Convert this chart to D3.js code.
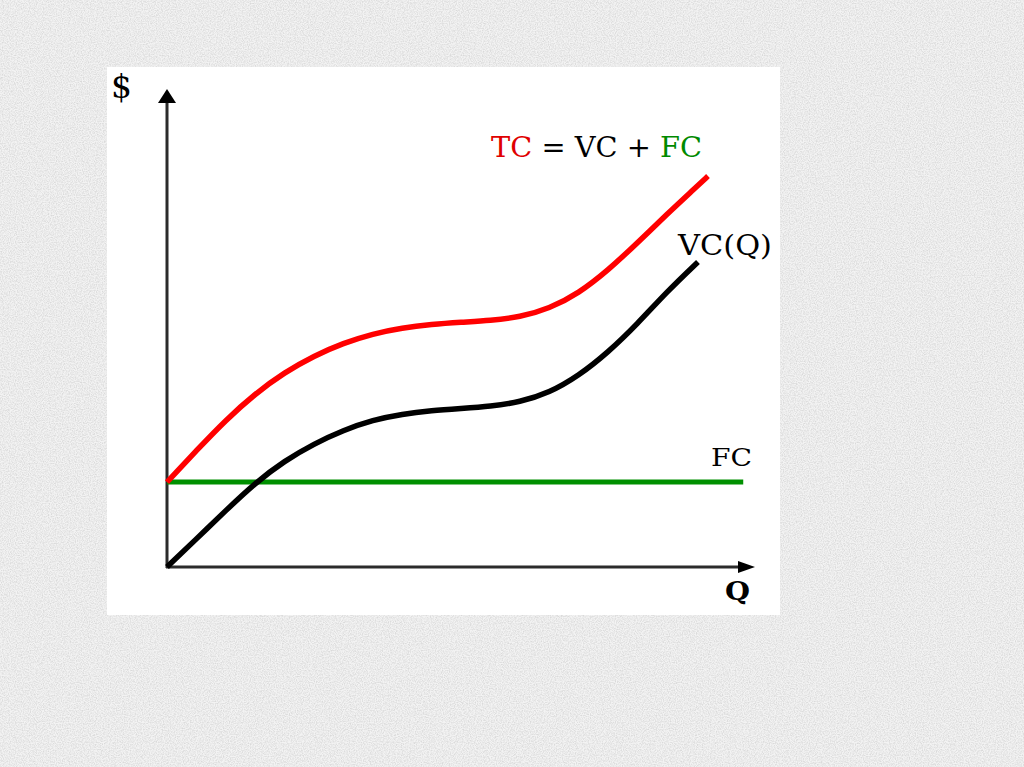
<!DOCTYPE html>
<html>
<head>
<meta charset="utf-8">
<script src="https://cdn.jsdelivr.net/npm/d3@7"></script>
<style>
  html, body { margin: 0; padding: 0; background: #ececec; }
  svg { display: block; }
</style>
</head>
<body>
<script>
// quantity values (Q) and cost curves
const qTC = [0, 0.5, 1, 1.5, 2, 2.5, 3, 3.5, 4, 4.5, 5, 5.5, 6, 6.5, 7, 7.5, 8, 8.5, 9, 9.2];
const tcValues = [2.0, 2.74, 3.46, 4.08, 4.58, 4.97, 5.27, 5.49, 5.63, 5.71, 5.76, 5.8, 5.88, 6.08, 6.44, 6.98, 7.63, 8.3, 8.94, 9.2];
const qVC = [0, 0.5, 1, 1.5, 2, 2.5, 3, 3.5, 4, 4.5, 5, 5.5, 6, 6.5, 7, 7.5, 8, 8.5, 9.03];
const vcValues = [0, 0.66, 1.33, 1.98, 2.5, 2.9, 3.22, 3.46, 3.6, 3.68, 3.73, 3.78, 3.88, 4.1, 4.5, 5.05, 5.72, 6.48, 7.18];
const qFC = [0, 9.8];
const fcValue = 2;

const W = 1024, H = 767;
const panel = { x: 107, y: 67, w: 673, h: 548 };
const margin = { left: 167, right: 755, top: 89, bottom: 567 };

const svg = d3.select('body').append('svg')
    .attr('width', W)
    .attr('height', H);

// grainy grey backdrop
const defs = svg.append('defs');
const noise = defs.append('filter').attr('id', 'grain')
    .attr('x', 0).attr('y', 0).attr('width', '100%').attr('height', '100%');
noise.append('feTurbulence')
    .attr('type', 'fractalNoise')
    .attr('baseFrequency', 0.85)
    .attr('numOctaves', 2)
    .attr('seed', 3)
    .attr('result', 'n');
noise.append('feColorMatrix')
    .attr('in', 'n')
    .attr('type', 'matrix')
    .attr('values', '0 0 0 0 0.6  0 0 0 0 0.6  0 0 0 0 0.6  0 0 0 -2.2 1.45');

svg.append('rect').attr('width', W).attr('height', H).attr('fill', '#f3f3f3');
svg.append('rect').attr('width', W).attr('height', H).attr('filter', 'url(#grain)').attr('opacity', 0.6);

svg.append('rect')
    .attr('x', panel.x).attr('y', panel.y)
    .attr('width', panel.w).attr('height', panel.h)
    .attr('fill', '#fff');

const x = d3.scaleLinear().domain([0, 10]).range([margin.left, margin.right]);
const y = d3.scaleLinear().domain([0, 11.25]).range([margin.bottom, margin.top]);

const line = d3.line()
    .x(d => x(d[0]))
    .y(d => y(d[1]))
    .curve(d3.curveBasis);

// axes with arrowheads
const axisColor = '#2b2b2b';
svg.append('line')
    .attr('x1', x(0)).attr('y1', y(0) + 1)
    .attr('x2', x(0)).attr('y2', y(11.25) + 12)
    .attr('stroke', axisColor).attr('stroke-width', 3);
svg.append('path')
    .attr('d', `M${x(0)},${y(11.25)} L${x(0) - 9},${y(11.25) + 14} L${x(0) + 9},${y(11.25) + 14}Z`)
    .attr('fill', '#000');

svg.append('line')
    .attr('x1', x(0) - 1).attr('y1', y(0))
    .attr('x2', x(10) - 14).attr('y2', y(0))
    .attr('stroke', axisColor).attr('stroke-width', 3);
svg.append('path')
    .attr('d', `M${x(10)},${y(0)} L${x(10) - 17},${y(0) - 6} L${x(10) - 17},${y(0) + 6}Z`)
    .attr('fill', '#000');

// FC
svg.append('path')
    .datum(qFC.map(q => [q, fcValue]))
    .attr('fill', 'none')
    .attr('stroke', '#009000')
    .attr('stroke-width', 5)
    .attr('d', line);

// VC
svg.append('path')
    .datum(qVC.map((q, i) => [q, vcValues[i]]))
    .attr('fill', 'none')
    .attr('stroke', '#000')
    .attr('stroke-width', 5.5)
    .attr('d', line);

// TC
svg.append('path')
    .datum(qTC.map((q, i) => [q, tcValues[i]]))
    .attr('fill', 'none')
    .attr('stroke', '#ff0000')
    .attr('stroke-width', 5.5)
    .attr('d', line);

// labels
const serif = '"DejaVu Serif", "Liberation Serif", serif';

svg.append('text')
    .attr('x', 111).attr('y', 98)
    .attr('textLength', 21)
    .attr('lengthAdjust', 'spacingAndGlyphs')
    .style('font', `33px ${serif}`)
    .text('$');

const eq = svg.append('text')
    .attr('x', 491).attr('y', 157)
    .attr('textLength', 211)
    .attr('lengthAdjust', 'spacingAndGlyphs')
    .style('font', `27px ${serif}`);
eq.append('tspan').attr('fill', '#e00000').text('TC');
eq.append('tspan').attr('fill', '#000').text(' = VC + ');
eq.append('tspan').attr('fill', '#008a00').text('FC');

svg.append('text')
    .attr('x', 678).attr('y', 255)
    .attr('textLength', 94)
    .attr('lengthAdjust', 'spacingAndGlyphs')
    .style('font', `27px ${serif}`)
    .text('VC(Q)');

svg.append('text')
    .attr('x', 711).attr('y', 466)
    .attr('textLength', 41)
    .attr('lengthAdjust', 'spacingAndGlyphs')
    .style('font', `25px ${serif}`)
    .text('FC');

svg.append('text')
    .attr('x', 725).attr('y', 600)
    .attr('textLength', 25)
    .attr('lengthAdjust', 'spacingAndGlyphs')
    .style('font', `bold 26px ${serif}`)
    .text('Q');
</script>
</body>
</html>
